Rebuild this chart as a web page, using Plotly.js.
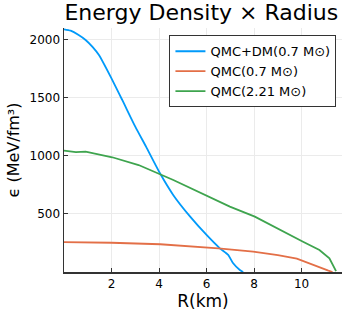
<!DOCTYPE html>
<html><head><meta charset="utf-8">
<script src="https://cdn.plot.ly/plotly-3.0.1.min.js"></script>
<style>html,body{margin:0;padding:0;background:#fff}#c{width:346px;height:315px}</style>
</head><body><div id="c"></div>
<script>
const blueR = [0.0, 0.28, 0.6, 0.91, 1.2, 1.47, 1.96, 2.45, 3.0, 3.49, 4.04, 4.61, 5.31, 6.0, 6.56, 6.91, 7.12, 7.4, 7.54];
const blueE = [2092, 2080, 2045, 2000, 1940, 1870, 1684, 1483, 1253, 1066, 851, 660, 477, 319, 204, 147, 75, 17, 0];
const orangeR = [0.0, 2.0, 4.05, 6.5, 7.96, 9.0, 9.8, 10.47, 10.9, 11.1, 11.3];
const orangeE = [258, 252, 239, 204, 175, 145, 115, 60, 28, 14, 0];
const greenR = [0.0, 0.5, 0.91, 2.03, 3.14, 3.98, 4.6, 6.98, 8.03, 10.06, 10.75, 11.17, 11.3, 11.45];
const greenE = [1046, 1034, 1037, 989, 922, 850, 793, 563, 477, 261, 190, 118, 70, 8];
const names = ["QMC+DM(0.7 M\u2299)", "QMC(0.7 M\u2299)", "QMC(2.21 M\u2299)"];
const colors = ["#009AFA", "#E36F47", "#3EA44E"];
const xTicks = [2, 4, 6, 8, 10];
const yTicks = [500, 1000, 1500, 2000];

const traces = [
  {x: blueR, y: blueE, name: names[0]},
  {x: orangeR, y: orangeE, name: names[1]},
  {x: greenR, y: greenE, name: names[2]}
].map((t, i) => Object.assign(t, {type: 'scatter', mode: 'lines',
  line: {color: colors[i], width: 1.8, shape: i === 0 ? 'spline' : 'linear', smoothing: 0.6}}));

const font = {family: 'DejaVu Sans', color: '#000'};
const layout = {
  width: 346, height: 315,
  margin: {l: 64, r: 4, t: 28, b: 43},
  paper_bgcolor: '#fff', plot_bgcolor: '#fff',
  font: Object.assign({size: 12}, font),
  title: {text: 'Energy Density \u00d7 Radius', font: Object.assign({size: 22}, font), x: 0.582, xanchor: 'center', y: 0.985, yanchor: 'top'},
  xaxis: {
    range: [0, 11.7], tickvals: xTicks, ticktext: xTicks.map(String),
    showline: true, linecolor: '#333', linewidth: 1.5, mirror: false,
    ticks: 'inside', ticklen: 4, tickcolor: '#333',
    showgrid: true, gridcolor: '#ebebeb', gridwidth: 1, zeroline: false,
    tickfont: Object.assign({size: 12}, font),
    title: {text: 'R(km)', font: Object.assign({size: 17}, font), standoff: 5}
  },
  yaxis: {
    range: [0, 2103], tickvals: yTicks, ticktext: yTicks.map(String),
    showline: true, linecolor: '#333', linewidth: 1.5, mirror: false,
    ticks: 'inside', ticklen: 4, tickcolor: '#333',
    showgrid: true, gridcolor: '#ebebeb', gridwidth: 1, zeroline: false,
    tickfont: Object.assign({size: 12}, font),
    title: {text: '\u03f5 (MeV/fm\u00b3)', font: Object.assign({size: 16}, font), standoff: 6}
  },
  showlegend: true,
  legend: {
    x: 0.98, xanchor: 'right', y: 0.97, yanchor: 'top',
    bgcolor: '#fff', bordercolor: '#333', borderwidth: 1,
    font: Object.assign({size: 13}, font), tracegroupgap: 0, itemwidth: 30
  }
};
Plotly.newPlot('c', traces, layout, {displayModeBar: false, staticPlot: true});
</script>
</body></html>
